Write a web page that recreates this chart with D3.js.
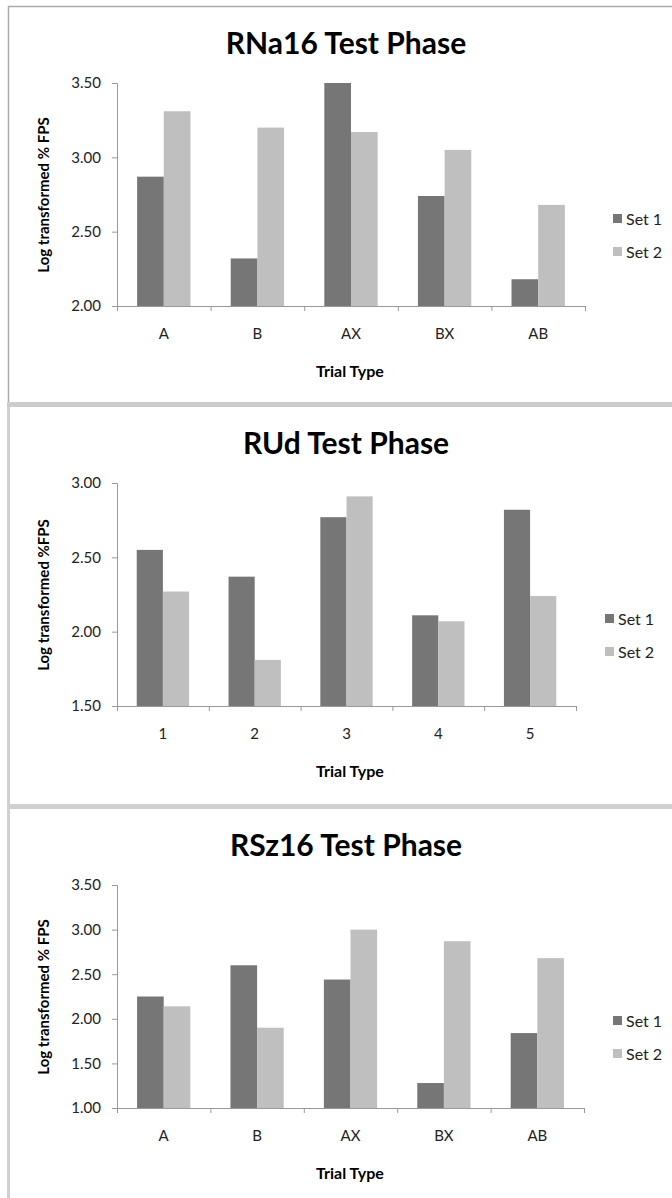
<!DOCTYPE html>
<html>
<head>
<meta charset="utf-8">
<script src="https://cdn.jsdelivr.net/npm/d3@7"></script>
<style>
  body { margin: 0; background: #fff; }
  svg text { font-family: Lato, "Open Sans", sans-serif; }
</style>
</head>
<body>
<div id="chart"></div>
<script>
// values
var seriesNames = ["Set 1", "Set 2"];
var letterTrials = ["A", "B", "AX", "BX", "AB"];
var numberTrials = ["1", "2", "3", "4", "5"];

var rna16Set1 = [2.87, 2.32, 3.50, 2.74, 2.18];
var rna16Set2 = [3.31, 3.20, 3.17, 3.05, 2.68];
var rudSet1 = [2.55, 2.37, 2.77, 2.11, 2.82];
var rudSet2 = [2.27, 1.81, 2.91, 2.07, 2.24];
var rsz16Set1 = [2.25, 2.60, 2.44, 1.28, 1.84];
var rsz16Set2 = [2.14, 1.90, 3.00, 2.87, 2.68];

var rna16Ticks = [2.00, 2.50, 3.00, 3.50];
var rudTicks = [1.50, 2.00, 2.50, 3.00];
var rsz16Ticks = [1.00, 1.50, 2.00, 2.50, 3.00, 3.50];

var panels = [
    {title: "RNa16 Test Phase", yLabel: "Log transformed % FPS", cats: letterTrials, s1: rna16Set1, s2: rna16Set2, ticks: rna16Ticks},
    {title: "RUd Test Phase", yLabel: "Log transformed %FPS", cats: numberTrials, s1: rudSet1, s2: rudSet2, ticks: rudTicks},
    {title: "RSz16 Test Phase", yLabel: "Log transformed % FPS", cats: letterTrials, s1: rsz16Set1, s2: rsz16Set2, ticks: rsz16Ticks}
];

// layout bits
var layout = [
    {top: 6, right: 585, legendX: 613},
    {top: 406, right: 576, legendX: 605},
    {top: 808, right: 584, legendX: 613}
];
var colors = ["#767676", "#bfbfbf"];

var svg = d3.select("#chart").append("svg")
    .attr("width", 672).attr("height", 1198);

// panel frames
svg.append("line").attr("x1", 8.5).attr("x2", 8.5).attr("y1", 6).attr("y2", 403)
    .attr("stroke", "#aaa").attr("stroke-width", 1.5);
svg.append("line").attr("x1", 8).attr("x2", 672).attr("y1", 6.5).attr("y2", 6.5)
    .attr("stroke", "#aaa").attr("stroke-width", 1.5);
svg.append("rect").attr("x", 7).attr("y", 402).attr("width", 3).attr("height", 796).attr("fill", "#d0d0d0");
svg.append("rect").attr("x", 7).attr("y", 402).attr("width", 665).attr("height", 5).attr("fill", "#cccccc");
svg.append("rect").attr("x", 7).attr("y", 804).attr("width", 665).attr("height", 5).attr("fill", "#d0d0d0");

panels.forEach(function(p, i) {
    var L = layout[i];
    var g = svg.append("g").attr("transform", "translate(0," + L.top + ")");
    var left = 117, plotTop = 77, plotBottom = 300;

    g.append("text")
        .attr("x", 346).attr("y", 48)
        .attr("text-anchor", "middle")
        .style("font-size", "30px").style("font-weight", "bold")
        .text(p.title);

    var y = d3.scaleLinear()
        .domain([p.ticks[0], p.ticks[p.ticks.length - 1]])
        .range([plotBottom, plotTop]);

    var x0 = d3.scaleBand().domain(p.cats).range([left, L.right])
        .paddingInner(0.43).paddingOuter(0.215);
    var x1 = d3.scaleBand().domain(seriesNames).range([0, x0.bandwidth()]);

    var rows = p.cats.map(function(c, k) {
        return {cat: c, vals: [p.s1[k], p.s2[k]]};
    });

    g.selectAll(".grp")
        .data(rows)
        .enter().append("g")
        .attr("transform", function(d) { return "translate(" + x0(d.cat) + ",0)"; })
        .selectAll("rect")
        .data(function(d) { return d.vals.map(function(v, j) { return {name: seriesNames[j], v: v, j: j}; }); })
        .enter().append("rect")
        .attr("x", function(d) { return x1(d.name); })
        .attr("width", x1.bandwidth())
        .attr("y", function(d) { return y(d.v); })
        .attr("height", function(d) { return plotBottom - y(d.v); })
        .attr("fill", function(d) { return colors[d.j]; });

    // y axis
    var yAxis = g.append("g").attr("transform", "translate(" + left + ",0)")
        .call(d3.axisLeft(y).tickValues(p.ticks).tickFormat(d3.format(".2f")).tickSize(5).tickPadding(11));
    yAxis.selectAll("path, line").attr("stroke", "#999");
    yAxis.selectAll("text").style("font-size", "15px").attr("fill", "#222");

    // x axis: boundary ticks
    var xEdge = d3.scaleLinear().domain([0, p.cats.length]).range([left, L.right]);
    var xAxis = g.append("g").attr("transform", "translate(0," + plotBottom + ")")
        .call(d3.axisBottom(xEdge).tickValues(d3.range(p.cats.length + 1)).tickFormat("").tickSize(5).tickSizeOuter(0));
    xAxis.selectAll("path, line").attr("stroke", "#999");

    var xLab = g.append("g").attr("transform", "translate(0," + plotBottom + ")")
        .call(d3.axisBottom(x0).tickSize(0).tickPadding(22));
    xLab.select(".domain").remove();
    xLab.selectAll("text").style("font-size", "15px").attr("fill", "#222");

    g.append("text")
        .attr("x", 350).attr("y", 365).attr("dy", "0.35em")
        .attr("text-anchor", "middle")
        .style("font-size", "16px").style("font-weight", "bold")
        .text("Trial Type");

    g.append("text")
        .attr("transform", "translate(44,189) rotate(-90)")
        .attr("dy", "0.35em")
        .attr("text-anchor", "middle")
        .style("font-size", "15px").style("font-weight", "bold")
        .text(p.yLabel);

    // legend
    var leg = g.selectAll(".leg").data(seriesNames).enter().append("g")
        .attr("transform", function(d, j) { return "translate(" + L.legendX + "," + (213 + j * 33) + ")"; });
    leg.append("rect").attr("x", 0).attr("y", -5).attr("width", 9).attr("height", 9)
        .attr("fill", function(d, j) { return colors[j]; });
    leg.append("text").attr("x", 13).attr("dy", "0.35em")
        .style("font-size", "16px").attr("fill", "#222")
        .text(function(d) { return d; });
});
</script>
</body>
</html>
